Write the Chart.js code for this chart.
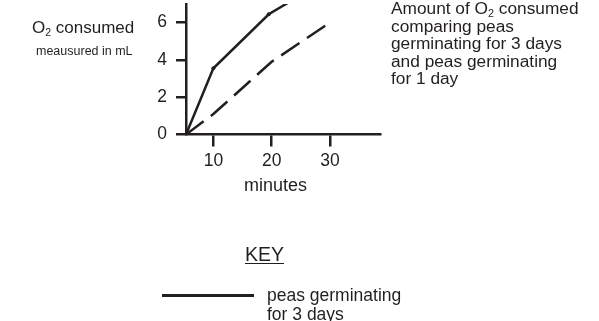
<!DOCTYPE html>
<html lang="en">
<head>
    <meta charset="UTF-8">
    <title>O2 consumed by germinating peas</title>
    <script src="https://cdn.jsdelivr.net/npm/chart.js"></script>
    <style>
        body {
            margin: 0;
            background: #ffffff;
            color: #231f20;
            font-family: "Liberation Sans", Arial, sans-serif;
        }
        .wrap {
            position: relative;
            width: 599px;
            height: 321px;
            overflow: hidden;
        }
        #chart {
            position: absolute;
            left: 0;
            top: 0;
        }
        .txt {
            position: absolute;
            white-space: nowrap;
        }
        sub {
            font-size: 0.62em;
            line-height: 0;
            vertical-align: -0.25em;
        }
        .yTitle { left: 32px; top: 18px; font-size: 17px; line-height: 20px; }
        .yUnit { left: 36px; top: 44px; font-size: 12.5px; line-height: 14px; }
        .xTitle { left: 244px; width: 62px; text-align: center; top: 175px; font-size: 18px; line-height: 20px; }
        .title { left: 391px; top: 0px; font-size: 17.3px; line-height: 17.6px; }
        .key { left: 245px; top: 243px; font-size: 19.5px; line-height: 22px; text-decoration: underline; text-underline-offset: 2px; }
        .keyLine { position: absolute; left: 162px; top: 294px; width: 92px; height: 2.5px; background: #231f20; }
        .keyText { left: 267px; top: 286px; font-size: 17.5px; line-height: 18.5px; }
    </style>
</head>
<body>
    <div class="wrap">
        <canvas id="chart" width="599" height="321"></canvas>
        <div class="txt yTitle">O<sub>2</sub> consumed</div>
        <div class="txt yUnit">meausured in mL</div>
        <div class="txt xTitle">minutes</div>
        <div class="txt title">Amount of O<sub>2</sub> consumed<br>comparing peas<br>germinating for 3 days<br>and peas germinating<br>for 1 day</div>
        <div class="txt key">KEY</div>
        <div class="keyLine"></div>
        <div class="txt keyText">peas germinating<br>for 3 days</div>
    </div>
    <script>
        // values (minutes, mL of O2)
        const minutes3Days = [5.3, 10, 19.5, 30];
        const o2For3Days = [0, 3.55, 6.45, 8.4];
        const minutes1Day = [5.3, 10, 20, 30];
        const o2For1Day = [0, 1.1, 3.9, 6.0];
        const xTickValues = [10, 20, 30];
        const yTickValues = [0, 2, 4, 6];

        var ink = '#231f20';

        function toPoints(xs, ys) {
            return xs.map(function(x, i) { return { x: x, y: ys[i] }; });
        }

        var ctx = document.getElementById('chart').getContext('2d');
        new Chart(ctx, {
            type: 'line',
            data: {
                datasets: [{
                    label: 'peas germinating for 3 days',
                    data: toPoints(minutes3Days, o2For3Days),
                    borderColor: ink,
                    borderWidth: 2.5,
                    pointRadius: [0, 2, 2, 2],
                    pointBackgroundColor: ink,
                    pointBorderWidth: 0,
                    fill: false
                }, {
                    label: 'peas germinating for 1 day',
                    data: toPoints(minutes1Day, o2For1Day),
                    borderColor: ink,
                    borderWidth: 2.5,
                    borderDash: [22, 9],
                    pointRadius: 0,
                    fill: false
                }]
            },
            options: {
                responsive: false,
                animation: false,
                layout: { padding: { left: 0, right: 219, top: 0, bottom: 0 } },
                plugins: {
                    legend: { display: false },
                    tooltip: { enabled: false }
                },
                scales: {
                    x: {
                        type: 'linear',
                        min: 5.3,
                        max: 38.6,
                        afterBuildTicks: function(scale) {
                            scale.ticks = xTickValues.map(function(v) { return { value: v }; });
                        },
                        afterFit: function(scale) {
                            scale.height = 186.5;
                            scale.paddingLeft = 0;
                            scale.paddingRight = 0;
                        },
                        ticks: {
                            color: ink,
                            padding: 4,
                            maxRotation: 0,
                            font: { family: 'Liberation Sans', size: 17.5 }
                        },
                        grid: {
                            drawOnChartArea: false,
                            tickLength: 12,
                            color: ink,
                            lineWidth: 2.5
                        },
                        border: { color: ink, width: 2.5 }
                    },
                    y: {
                        min: 0,
                        max: 7.0,
                        afterBuildTicks: function(scale) {
                            scale.ticks = yTickValues.map(function(v) { return { value: v }; });
                        },
                        afterFit: function(scale) {
                            scale.width = 186;
                            scale.paddingTop = 0;
                            scale.paddingBottom = 0;
                        },
                        ticks: {
                            color: ink,
                            padding: 9,
                            font: { family: 'Liberation Sans', size: 17.5 }
                        },
                        grid: {
                            drawOnChartArea: false,
                            tickLength: 10,
                            color: ink,
                            lineWidth: 2.5
                        },
                        border: { color: ink, width: 2.5 }
                    }
                }
            }
        });
    </script>
</body>
</html>
